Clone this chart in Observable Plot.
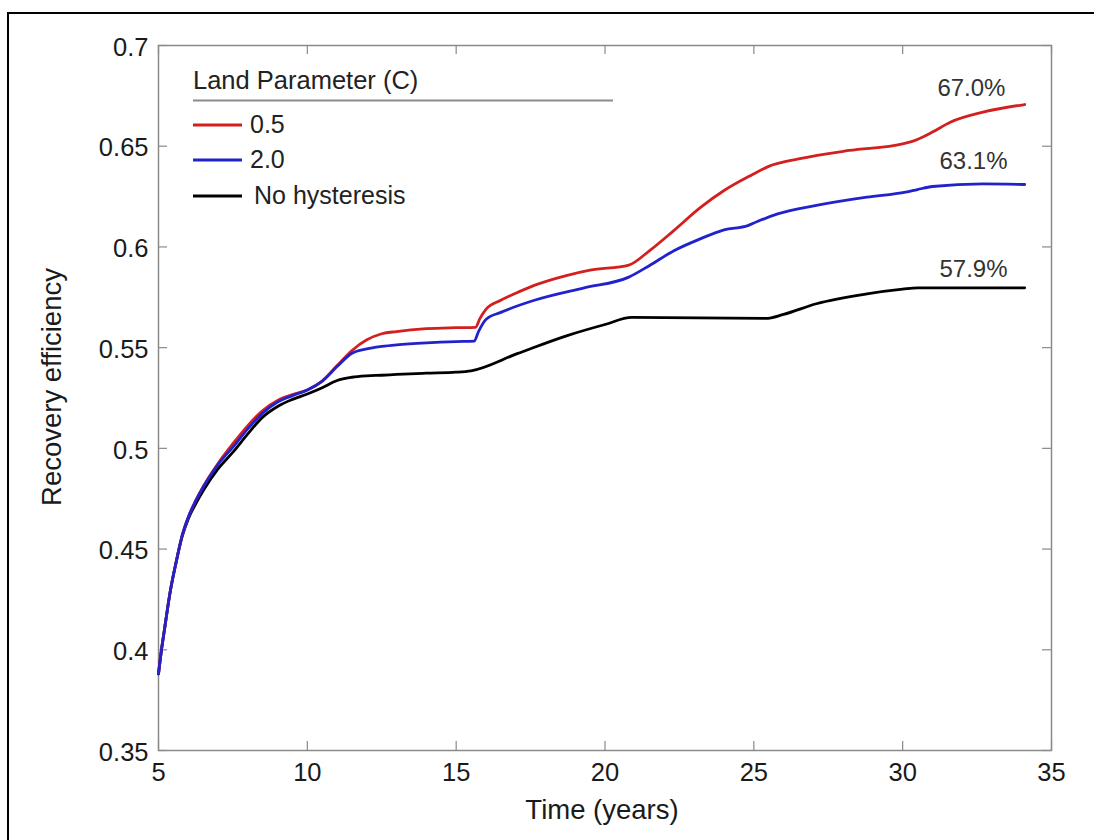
<!DOCTYPE html>
<html>
<head>
<meta charset="utf-8">
<script src="https://cdn.jsdelivr.net/npm/d3@7"></script>
<script src="https://cdn.jsdelivr.net/npm/@observablehq/plot@0.6"></script>
<style>
  html, body { margin: 0; padding: 0; background: #fff; overflow: hidden; }
  #wrap { position: relative; width: 1095px; height: 840px; overflow: hidden; background: #fff; }
  #wrap svg { display: block; }
</style>
</head>
<body>
<div id="wrap"></div>
<script>
// ---------------- data ----------------
const seriesNames  = ["0.5", "2.0", "No hysteresis"];
const seriesColors = ["#d41f1f", "#2222cc", "#000000"];
const legendTitle  = "Land Parameter (C)";
const xTitle = "Time (years)";
const yTitle = "Recovery efficiency";

const xTicks = [5, 10, 15, 20, 25, 30, 35];
const xTickLabels = ["5", "10", "15", "20", "25", "30", "35"];
const yTicks = [0.35, 0.4, 0.45, 0.5, 0.55, 0.6, 0.65, 0.7];
const yTickLabels = ["0.35", "0.4", "0.45", "0.5", "0.55", "0.6", "0.65", "0.7"];

const timeRed = [5.0,5.1,5.2,5.4,5.6,5.8,6.0,6.25,6.5,7.0,7.5,8.0,8.5,9.0,9.5,10.0,10.5,11.0,11.5,12.0,12.5,13.0,14.0,15.0,15.65,15.8,16.0,16.5,17.0,17.6,18.7,19.5,20.8,21.5,22.3,23.2,24.0,24.9,25.5,26.5,28.2,30.0,30.4,31.0,31.6,32.7,34.1];
const recRed  = [0.388,0.400,0.410,0.4294,0.444,0.457,0.4658,0.474,0.481,0.4925,0.5023,0.5113,0.5188,0.5238,0.5267,0.529,0.5334,0.5411,0.5486,0.5539,0.5569,0.558,0.5594,0.5599,0.5601,0.5645,0.569,0.5735,0.577,0.5808,0.5858,0.5885,0.591,0.5982,0.608,0.6195,0.628,0.6355,0.640,0.6437,0.6479,0.6512,0.6528,0.657,0.6619,0.6669,0.6707];

const timeBlue = [5.0,5.1,5.2,5.4,5.6,5.8,6.0,6.25,6.5,7.0,7.5,8.0,8.5,9.0,9.5,10.0,10.5,11.0,11.5,12.0,12.5,13.0,14.0,15.0,15.6,15.75,16.0,16.5,17.6,19.3,20.8,21.5,22.3,23.2,24.0,24.8,25.1,25.8,27.1,28.8,30.1,30.5,31.0,32.7,34.1];
const recBlue  = [0.388,0.400,0.410,0.4294,0.444,0.457,0.4658,0.474,0.4807,0.492,0.5006,0.5097,0.5175,0.523,0.5262,0.529,0.5334,0.5406,0.5472,0.5494,0.5506,0.5514,0.5524,0.553,0.5532,0.558,0.564,0.5675,0.5734,0.5797,0.585,0.5908,0.598,0.604,0.6085,0.6106,0.6125,0.6164,0.6206,0.6247,0.6272,0.6285,0.630,0.6313,0.631];

const timeBlack = [5.0,5.1,5.2,5.4,5.6,5.8,6.0,6.25,6.5,7.0,7.5,8.0,8.5,9.0,9.5,10.0,10.5,11.0,11.5,12.0,12.5,13.0,14.0,15.0,15.5,17.05,18.73,20.0,20.9,25.4,26.0,27.1,28.8,30.0,30.5,34.1];
const recBlack  = [0.388,0.400,0.410,0.4294,0.444,0.4565,0.465,0.4725,0.479,0.4898,0.4981,0.5072,0.5155,0.5208,0.5243,0.527,0.5301,0.5337,0.5353,0.536,0.5363,0.5367,0.5373,0.5378,0.5385,0.547,0.556,0.5615,0.565,0.5645,0.5665,0.5718,0.5767,0.579,0.5797,0.5797];

const annotText = ["67.0%", "63.1%", "57.9%"];
const annotX    = [32.31, 32.38, 32.38];
const annotY    = [0.6747, 0.6389, 0.5853];

// ---------------- build tables ----------------
const seriesTimes = [timeRed, timeBlue, timeBlack];
const seriesVals  = [recRed, recBlue, recBlack];
const rows = [];
seriesNames.forEach((name, s) => {
  seriesTimes[s].forEach((t, i) => rows.push({series: name, t, v: seriesVals[s][i]}));
});
const annots = annotText.map((text, i) => ({text, x: annotX[i], y: annotY[i]}));

// ---------------- layout ----------------
const width = 1095, height = 840;
const mL = 158, mR = 44, mT = 45, mB = 90;
const iw = width - mL - mR, ih = height - mT - mB;
const gray = "#8a8a8a";
const font = "'Liberation Sans', Arial, Helvetica, sans-serif";

const drawOrder = [2, 0, 1];
const lineMarks = drawOrder.map(s =>
  Plot.line(rows.filter(r => r.series === seriesNames[s]), {
    x: "t", y: "v", stroke: "series", strokeWidth: 2.8, curve: "monotone-x"
  })
);

const chart = Plot.plot({
  width, height,
  marginLeft: mL, marginRight: mR, marginTop: mT, marginBottom: mB,
  style: {fontFamily: font, fontSize: "25.5px", color: "#1a1a1a", background: "#fff"},
  x: {domain: [5, 35]},
  y: {domain: [0.35, 0.7]},
  color: {domain: seriesNames, range: seriesColors},
  marks: [
    Plot.frame({stroke: gray, strokeWidth: 1.5}),
    Plot.tickX(xTicks, {x: d => d, stroke: gray, strokeWidth: 1.2, insetTop: ih - 9}),
    Plot.tickX(xTicks, {x: d => d, stroke: gray, strokeWidth: 1.2, insetBottom: ih - 9}),
    Plot.tickY(yTicks, {y: d => d, stroke: gray, strokeWidth: 1.2, insetRight: iw - 9}),
    Plot.tickY(yTicks, {y: d => d, stroke: gray, strokeWidth: 1.2, insetLeft: iw - 9}),
    Plot.axisX(xTicks, {tickSize: 0, tickPadding: 12, label: null, fontSize: 25.5,
      tickFormat: d => xTickLabels[xTicks.indexOf(d)]}),
    Plot.axisY(yTicks, {tickSize: 0, tickPadding: 10, label: null, fontSize: 25.5, dy: 2,
      tickFormat: d => yTickLabels[yTicks.indexOf(d)]}),
    Plot.text([xTitle], {text: d => d, frameAnchor: "bottom", dy: 68, dx: -3,
      lineAnchor: "bottom", fontSize: 27.5, fill: "#1a1a1a"}),
    Plot.text([yTitle], {text: d => d, frameAnchor: "left", rotate: -90, dx: -98, dy: -11,
      lineAnchor: "bottom", textAnchor: "middle", fontSize: 27.5, fill: "#1a1a1a"}),
    ...lineMarks,
    Plot.text(annots, {x: "x", y: "y", text: "text", lineAnchor: "bottom",
      textAnchor: "middle", fontSize: 24, fill: "#333"})
  ]
});

document.getElementById("wrap").appendChild(chart);

const svg = d3.select(chart);

// ---------------- outer border (top and left only) ----------------
const bg = svg.append("g").attr("stroke", "#000").attr("stroke-width", 2);
bg.append("line").attr("x1", 7).attr("x2", width - 1).attr("y1", 13).attr("y2", 13);
bg.append("line").attr("x1", 8).attr("x2", 8).attr("y1", 12).attr("y2", height);

// ---------------- legend (inside plot, top-left) ----------------
const lg = svg.append("g").attr("font-family", font).attr("font-size", 25)
  .attr("fill", "#222").attr("text-anchor", "start");
const lx = mL + 35;
lg.append("text").attr("x", lx).attr("y", mT + 44).attr("font-size", 25.5).text(legendTitle);
lg.append("line").attr("x1", lx).attr("x2", lx + 420).attr("y1", mT + 55.5).attr("y2", mT + 55.5)
  .attr("stroke", gray).attr("stroke-width", 2);
const rowY = [125, 160, 196];
const textX = [250, 250, 254];
seriesNames.forEach((name, i) => {
  lg.append("line").attr("x1", lx).attr("x2", lx + 49).attr("y1", rowY[i]).attr("y2", rowY[i])
    .attr("stroke", seriesColors[i]).attr("stroke-width", 3);
  lg.append("text").attr("x", textX[i]).attr("y", rowY[i] + 8).text(name);
});
</script>
</body>
</html>
